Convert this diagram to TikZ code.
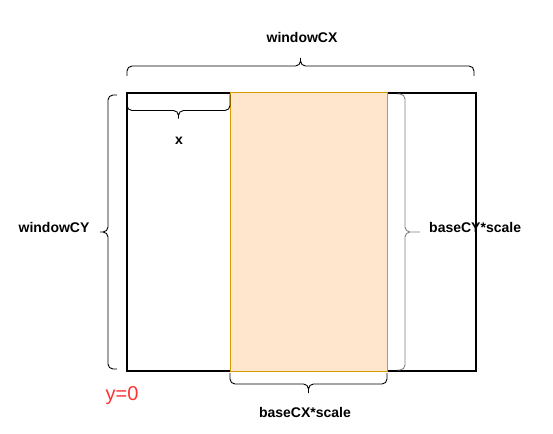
\documentclass[tikz,border=0pt]{standalone}
\usepackage{fontspec}
\setmainfont{Liberation Sans}
\usetikzlibrary{calc}
\definecolor{BandFill}{HTML}{FFE6CC}
\definecolor{BandLine}{HTML}{D79B00}
\definecolor{BraceGray}{HTML}{808080}
\definecolor{ZeroRed}{HTML}{FF3333}
\tikzset{
  lbl/.style={font=\fontsize{14}{16}\selectfont\bfseries,anchor=base,inner sep=0pt},
  % bracket: #1 = depth of the bar, #2 = depth of the tip (to the left of the path)
  brk/.style 2 args={line width=0.9pt,rounded corners=5pt,
    to path={
      -- ($(\tikztostart)!#1!90:(\tikztotarget)$)
      -- ($($(\tikztostart)!.5!(\tikztotarget)$)!#1!90:(\tikztotarget)$)
      -- ($($(\tikztostart)!.5!(\tikztotarget)$)!#2!90:(\tikztotarget)$)
      (\tikztotarget)
      -- ($(\tikztotarget)!#1!-90:(\tikztostart)$)
      -- ($($(\tikztostart)!.5!(\tikztotarget)$)!#1!90:(\tikztotarget)$)
      -- ($($(\tikztostart)!.5!(\tikztotarget)$)!#2!90:(\tikztotarget)$)
    }}
}

\begin{document}
\begin{tikzpicture}[x=1pt,y=-1pt]
\useasboundingbox (0,0) rectangle (553,433);
\node[draw,line width=1.1pt,inner sep=0pt,outer sep=0pt,minimum width=349,minimum height=278,anchor=north west] (win) at (127,93) {};
\node[draw=BandLine,fill=BandFill,line width=1pt,inner sep=0pt,outer sep=0pt,minimum width=157,minimum height=278,anchor=north west] (band) at (230,93) {};
% bracket ends
\coordinate (topL) at ([yshift=17pt]win.north west);
\coordinate (topR) at ([xshift=-2pt,yshift=17pt]win.north east);
\coordinate (xR) at ([yshift=-1.5pt]band.north west);
\coordinate (xL) at ([yshift=-1.5pt]win.north west);
\coordinate (lftB) at ([xshift=-10pt,yshift=2pt]win.south west);
\coordinate (lftT) at ([xshift=-10pt,yshift=-2pt]win.north west);
\coordinate (rgtT) at ([xshift=10pt,yshift=-1pt]band.north east);
\coordinate (rgtB) at ([xshift=10pt,yshift=1pt]band.south east);
\coordinate (botR) at ([yshift=-2pt]band.south east);
\coordinate (botL) at ([yshift=-2pt]band.south west);
% brackets
\draw[brk={10pt}{18pt}] (topL) to (topR);
\draw[brk={16pt}{24pt}] (xR) to (xL);
\draw[brk={9pt}{17pt}] (lftB) to (lftT);
\draw[brk={8pt}{23pt},draw=BraceGray] (rgtT) to (rgtB);
\draw[brk={11pt}{20pt}] (botR) to (botL);
% labels
\node[lbl] (cx) at (302,43) {windowCX};
\node[lbl] (xo) at (179,144) {x};
\node[lbl] (cy) at (54,232) {windowCY};
\node[lbl,anchor=base west] (sy) at (429,232) {baseCY*scale};
\node[lbl] (sx) at (305,417) {baseCX*scale};
\node[font=\fontsize{20}{24}\selectfont,text=ZeroRed,anchor=base,inner sep=0pt] (y0) at (122,400) {y=0};
\end{tikzpicture}
\end{document}
